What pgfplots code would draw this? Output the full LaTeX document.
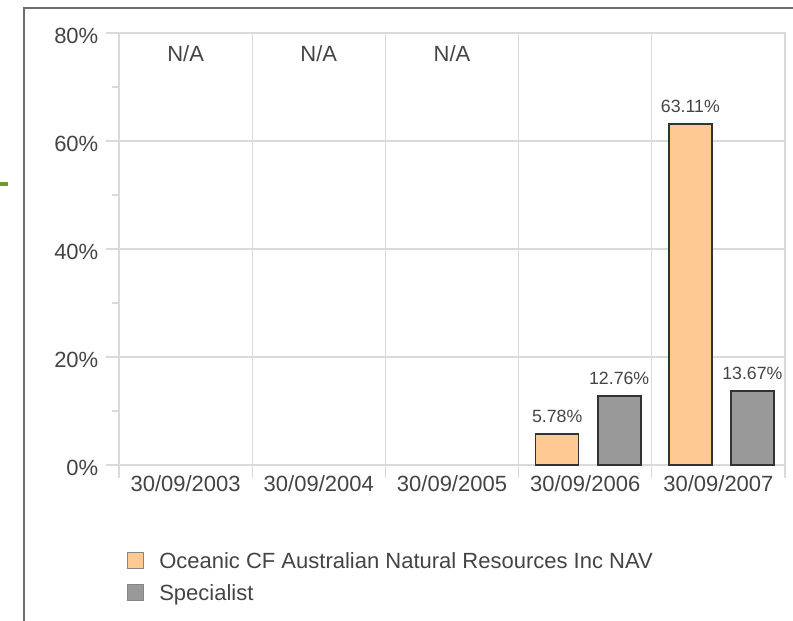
\documentclass[border=0pt]{standalone}
\usepackage{fontspec}
\setmainfont{Liberation Sans}
\usepackage{pgfplots}
\pgfplotsset{compat=1.18}
\definecolor{peach}{HTML}{FFC994}
\definecolor{midgray}{HTML}{999999}
\definecolor{gridgray}{HTML}{D9D9D9}
\definecolor{framegray}{HTML}{6E6E6E}
\definecolor{leafgreen}{HTML}{6B9A2E}
\definecolor{txt}{HTML}{444444}
\definecolor{edge}{HTML}{333333}

\begin{document}
\begin{tikzpicture}[x=1pt,y=1pt]
% page = 793x621 px, 1px = 0.75pt, origin at plot's lower left corner
\path[use as bounding box] (-89.25,-117) rectangle (505.5,348.75);
\draw[framegray, line width=1.5pt] (-71.25,-120) -- (-71.25,342.75) -- (510,342.75);
\fill[leafgreen] (-90,209.6) rectangle (-83.25,211.9);

\begin{axis}[
    at={(0,0)}, anchor=south west,
    scale only axis, width=499.5pt, height=324pt,
    xmin=-0.5, xmax=4.5, ymin=0, ymax=80,
    xtick={-0.5,0.5,1.5,2.5,3.5,4.5},
    x tick label as interval,
    xticklabels={30/09/2003,30/09/2004,30/09/2005,30/09/2006,30/09/2007},
    ytick={0,20,40,60,80},
    minor y tick num=1,
    yticklabel={\pgfmathprintnumber{\tick}\%},
    /pgf/number format/assume math mode=true,
    grid=major,
    grid style={gridgray, line width=1pt},
    axis line style={gridgray, line width=1pt},
    tick style={gridgray, line width=1pt},
    tick align=outside, tick pos=left,
    major tick length=9.75pt, minor tick length=5.25pt,
    ticklabel style={font=\fontsize{16.5}{19}\selectfont, text=txt},
    xticklabel style={yshift=5pt},
    yticklabel style={xshift=-2.25pt, yshift=-2pt},
    legend style={at={(axis description cs:0.005,-0.166)}, anchor=north west,
      draw=none, fill=none, font=\fontsize{16.5}{19}\selectfont, text=txt,
      row sep=-1.5pt, cells={anchor=west}},
    legend cell align=left,
  ]

  % Oceanic CF Australian Natural Resources Inc NAV
  \addplot[ybar, bar width=32.25pt, bar shift=-21pt,
    fill=peach, draw=edge, line width=1.2pt,
    nodes near coords={\pgfmathprintnumber[fixed,fixed zerofill,precision=2]{\pgfplotspointmeta}\%},
    nodes near coords style={font=\fontsize{13.3}{15}\selectfont, text=txt, inner sep=0pt, xshift=-21pt, yshift=8pt},
    legend image code/.code={\path[draw=none,fill=none] (0pt,-6pt) rectangle (22.5pt,16.5pt);
      \draw[fill=peach,draw=edge!60,line width=0.6pt] (0.75pt,-5.25pt) rectangle (12.75pt,6.75pt);}]
    coordinates {(3,5.78) (4,63.11)};

  % Specialist
  \addplot[ybar, bar width=32.25pt, bar shift=25.5pt,
    fill=midgray, draw=edge, line width=1.2pt,
    nodes near coords={\pgfmathprintnumber[fixed,fixed zerofill,precision=2]{\pgfplotspointmeta}\%},
    nodes near coords style={font=\fontsize{13.3}{15}\selectfont, text=txt, inner sep=0pt, xshift=25.5pt, yshift=8pt},
    legend image code/.code={\path[draw=none,fill=none] (0pt,-6pt) rectangle (22.5pt,16.5pt);
      \draw[fill=midgray,draw=edge!60,line width=0.6pt] (0.75pt,-5.25pt) rectangle (12.75pt,6.75pt);}]
    coordinates {(3,12.76) (4,13.67)};

  \legend{Oceanic CF Australian Natural Resources Inc NAV, Specialist}

  \node[font=\fontsize{16.5}{19}\selectfont, text=txt, anchor=base] at (axis cs:0,74.8) {N/A};
  \node[font=\fontsize{16.5}{19}\selectfont, text=txt, anchor=base] at (axis cs:1,74.8) {N/A};
  \node[font=\fontsize{16.5}{19}\selectfont, text=txt, anchor=base] at (axis cs:2,74.8) {N/A};
\end{axis}
\end{tikzpicture}
\end{document}
